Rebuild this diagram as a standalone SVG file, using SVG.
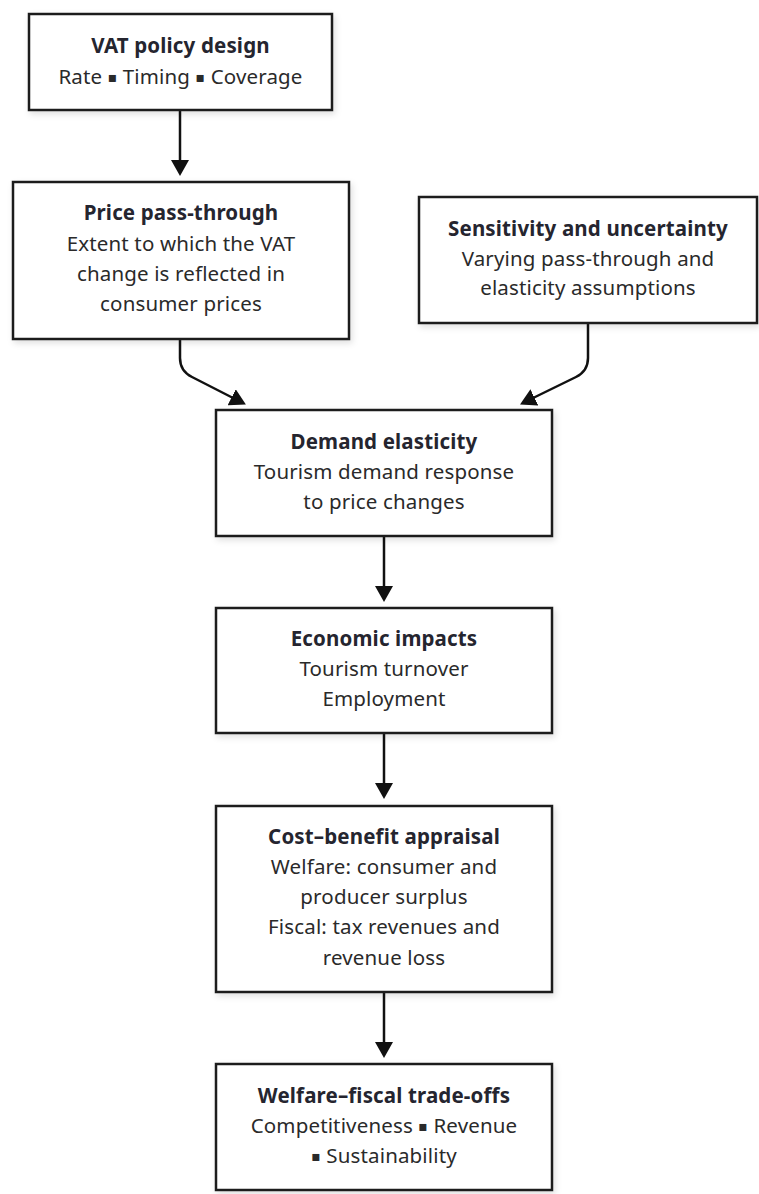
<svg xmlns="http://www.w3.org/2000/svg" width="759" height="1194" viewBox="0 0 759 1194">
<style>
.box{fill:#ffffff;stroke:#1f1f1f;stroke-width:2.5}
.t{font-family:"Noto Sans","Open Sans","DejaVu Sans",sans-serif;font-size:20.5px;letter-spacing:0.15px;fill:#2a2a2a;text-anchor:middle}
.b{font-weight:bold;fill:#25252f;letter-spacing:0.15px}
.d{font-size:14px;baseline-shift:2.5px}
.edge{fill:none;stroke:#111111;stroke-width:2.5}
</style>
<defs>
<filter id="sh" x="-10%" y="-10%" width="120%" height="130%">
<feDropShadow dx="2" dy="3" stdDeviation="3" flood-color="#000" flood-opacity="0.12"/>
</filter>
<marker id="ah" viewBox="0 0 16 18" refX="6" refY="9" markerWidth="16" markerHeight="18" markerUnits="userSpaceOnUse" orient="auto">
<path d="M0,0 L16,9 L0,18 z" fill="#111111"/>
</marker>
</defs>
<rect width="759" height="1194" fill="#ffffff"/>
<g id="connectors">
<path class="edge" d="M180,110 L180,166" marker-end="url(#ah)"/>
<path class="edge" d="M180,339 L180,358 Q180,371 192,377 L237,400" marker-end="url(#ah)"/>
<path class="edge" d="M588,323 L588,358 Q588,371 576,377 L529,400" marker-end="url(#ah)"/>
<path class="edge" d="M384,536 L384,592" marker-end="url(#ah)"/>
<path class="edge" d="M384,733 L384,789" marker-end="url(#ah)"/>
<path class="edge" d="M384,992 L384,1048" marker-end="url(#ah)"/>
</g>
<g id="vat-policy">
<rect class="box" x="29" y="14" width="303" height="96" filter="url(#sh)"/>
<text class="t b" x="180.5" y="53">VAT policy design</text>
<text class="t" x="180.5" y="84">Rate <tspan class="d">▪</tspan> Timing <tspan class="d">▪</tspan> Coverage</text>
</g>
<g id="price-pass-through">
<rect class="box" x="13" y="182" width="336" height="157" filter="url(#sh)"/>
<text class="t b" x="181" y="220">Price pass-through</text>
<text class="t" x="181" y="251">Extent to which the VAT</text>
<text class="t" x="181" y="281">change is reflected in</text>
<text class="t" x="181" y="311">consumer prices</text>
</g>
<g id="sensitivity">
<rect class="box" x="419" y="197" width="338" height="126" filter="url(#sh)"/>
<text class="t b" x="588" y="236">Sensitivity and uncertainty</text>
<text class="t" x="588" y="266">Varying pass-through and</text>
<text class="t" x="588" y="295">elasticity assumptions</text>
</g>
<g id="demand-elasticity">
<rect class="box" x="216" y="410" width="336" height="126" filter="url(#sh)"/>
<text class="t b" x="384" y="449">Demand elasticity</text>
<text class="t" x="384" y="479">Tourism demand response</text>
<text class="t" x="384" y="509">to price changes</text>
</g>
<g id="economic-impacts">
<rect class="box" x="216" y="608" width="336" height="125" filter="url(#sh)"/>
<text class="t b" x="384" y="646">Economic impacts</text>
<text class="t" x="384" y="676">Tourism turnover</text>
<text class="t" x="384" y="706">Employment</text>
</g>
<g id="cost-benefit">
<rect class="box" x="216" y="806" width="336" height="186" filter="url(#sh)"/>
<text class="t b" x="384" y="844">Cost–benefit appraisal</text>
<text class="t" x="384" y="874">Welfare: consumer and</text>
<text class="t" x="384" y="904">producer surplus</text>
<text class="t" x="384" y="934">Fiscal: tax revenues and</text>
<text class="t" x="384" y="965">revenue loss</text>
</g>
<g id="trade-offs">
<rect class="box" x="216" y="1064" width="336" height="126" filter="url(#sh)"/>
<text class="t b" x="384" y="1103">Welfare–fiscal trade-offs</text>
<text class="t" x="384" y="1133">Competitiveness <tspan class="d">▪</tspan> Revenue</text>
<text class="t" x="384" y="1163"><tspan class="d">▪</tspan> Sustainability</text>
</g>
</svg>
